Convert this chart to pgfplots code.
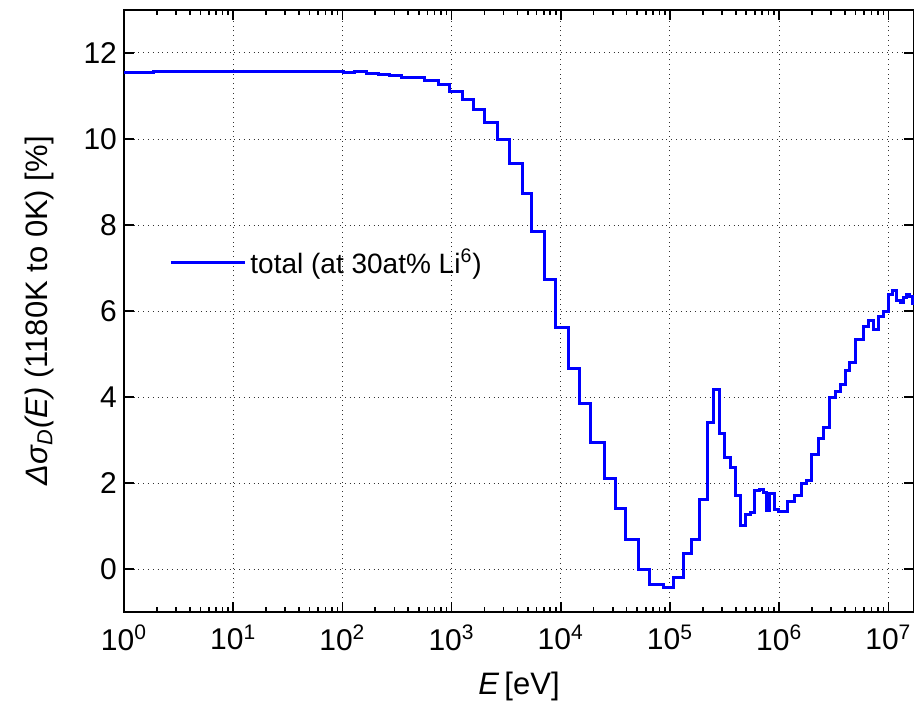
\documentclass[border=0pt]{standalone}
\usepackage{fontspec}
\setmainfont{Liberation Sans}
\usepackage{pgfplots}
\pgfplotsset{compat=1.18}
\usetikzlibrary{calc}

\begin{document}
\begin{tikzpicture}
\begin{axis}[scale only axis, width=395pt, height=301pt,
  xmode=log, xmin=1, xmax=1.718e7, ymin=-1, ymax=13,
  xtick={1,10,100,1000,1e4,1e5,1e6,1e7},
  xticklabels={10\textsuperscript{0},10\textsuperscript{1},10\textsuperscript{2},10\textsuperscript{3},10\textsuperscript{4},10\textsuperscript{5},10\textsuperscript{6},10\textsuperscript{7}},
  ytick={0,2,4,6,8,10,12}, minor y tick num=0,
  /pgf/number format/assume math mode=true,
  tick align=inside, major tick length=5pt, minor tick length=2.5pt,
  every tick/.style={black, line width=0.8pt},
  axis line style={black, line width=1pt},
  grid=major, major grid style={dotted, black!80, line width=0.5pt},
  tick label style={font=\fontsize{15}{17}\selectfont},
  xticklabel style={yshift=-3pt},
  label style={font=\fontsize{15.5}{18}\selectfont},
  xlabel={\textit{E}\,[eV]},
  xlabel style={yshift=-4pt},
  ylabel={\textit{Δσ}\textsubscript{\textit{D}}\textit{(E)} (1180K to 0K) [\%]},
  ylabel style={yshift=8pt},
  legend style={draw=none, fill=none, at={(0.057,0.58)}, anchor=west,
    font=\fontsize{14}{16}\selectfont, inner sep=0pt},
  legend image code/.code={\draw[#1] (0pt,0pt) -- (37pt,0pt);},
  legend cell align=left]
  \addplot[const plot, blue, line width=1.5pt] coordinates {
    (1,11.54) (1.862,11.58) (2.951,11.56) (4.467,11.575) (10,11.58)
    (101.4,11.54) (130.3,11.56) (166.7,11.53) (213.3,11.51) (272.9,11.48)
    (349.1,11.44) (445.6,11.42) (570.2,11.35) (755.1,11.26) (952.8,11.11)
    (1262,10.91) (1581,10.69) (1982,10.38) (2661,9.99) (3373,9.44)
    (4416,8.74) (5408,7.84) (7161,6.73) (9016,5.62) (11885,4.67)
    (14997,3.84) (18793,2.95) (25410,2.11) (31989,1.41) (39537,0.69)
    (51286,-0.02) (65615,-0.36) (86896,-0.42) (108393,-0.19) (132434,0.35)
    (158125,0.69) (188365,1.62) (219786,3.40) (249459,4.17) (287078,3.14)
    (319154,2.60) (359749,2.37) (399945,1.71) (446684,1.02) (496592,1.27)
    (540754,1.31) (599791,1.83) (657658,1.85) (726106,1.78) (767361,1.37)
    (824138,1.75) (912011,1.39) (995405,1.33) (1.186e6,1.57) (1.396e6,1.71)
    (1.607e6,1.99) (1.782e6,2.06) (1.977e6,2.66) (2.280e6,3.03) (2.535e6,3.30)
    (2.877e6,3.99) (3.311e6,4.12) (3.681e6,4.30) (4.093e6,4.61) (4.446e6,4.81)
    (5.012e6,5.33) (5.888e6,5.65) (6.546e6,5.78) (7.379e6,5.56) (8.204e6,5.88)
    (8.974e6,5.98) (1.0e7,6.39) (1.084e7,6.47) (1.191e7,6.25) (1.297e7,6.19)
    (1.390e7,6.32) (1.469e7,6.39) (1.549e7,6.33) (1.660e7,6.18) (1.718e7,6.18)
  };
  \addlegendentry{total (at 30at\% Li\textsuperscript{6})}
\end{axis}
\pgfresetboundingbox
\path[use as bounding box] ($(current axis.south west)+(-62pt,-50.5pt)$) rectangle ($(current axis.north east)+(0pt,5pt)$);
\end{tikzpicture}
\end{document}
